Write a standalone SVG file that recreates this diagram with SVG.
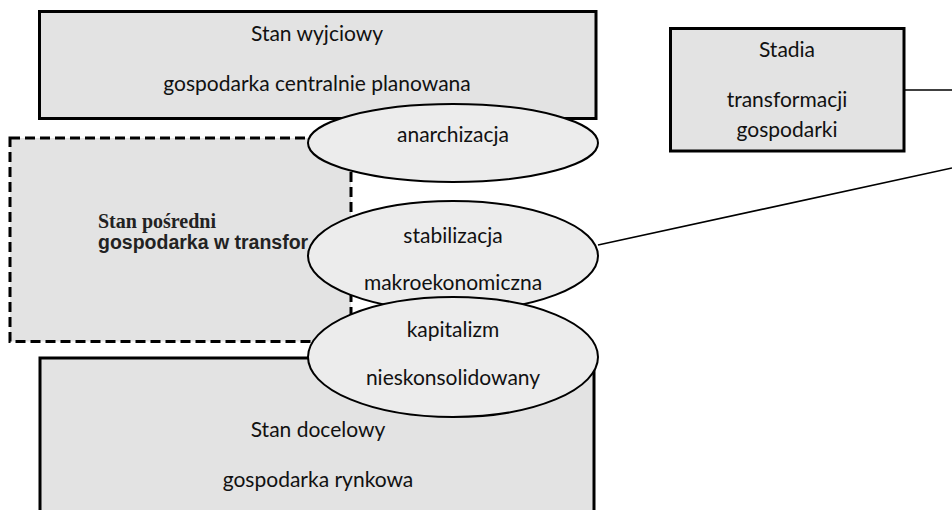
<svg xmlns="http://www.w3.org/2000/svg" width="952" height="510" viewBox="0 0 952 510">
<style>
.box{fill:#e3e3e3;stroke:#000;stroke-width:3}
.dash{fill:#e3e3e3;stroke:#000;stroke-width:3;stroke-dasharray:10 5}
.ell{fill:#ececec;stroke:#000;stroke-width:2}
.t{font-family:Lato,"Liberation Sans",sans-serif;font-size:21px;fill:#111;text-anchor:middle}
.conn{stroke:#000;stroke-width:1.6;fill:none}
</style>
<rect width="952" height="510" fill="#fff"/>
<g id="stan-wyjsciowy">
<rect class="box" x="39.5" y="11.5" width="556.5" height="107"/>
<text class="t" x="317" y="41">Stan wyjciowy</text>
<text class="t" x="317" y="91">gospodarka centralnie planowana</text>
</g>
<g id="stan-posredni">
<rect class="dash" x="10" y="138" width="341" height="203.5"/>
<text x="98" y="228" font-family="'Liberation Serif',serif" font-weight="bold" font-size="20" fill="#222">Stan pośredni</text>
<text x="98" y="249" font-family="'Liberation Sans',Arial,sans-serif" font-weight="bold" font-size="19.5" fill="#222">gospodarka w transfor</text>
</g>
<g id="stan-docelowy">
<rect class="box" x="40" y="358" width="554" height="180"/>
<text class="t" x="318" y="437">Stan docelowy</text>
<text class="t" x="318" y="487">gospodarka rynkowa</text>
</g>
<g id="anarchizacja">
<ellipse class="ell" cx="453" cy="143" rx="145" ry="39"/>
<text class="t" x="453" y="142">anarchizacja</text>
</g>
<g id="stabilizacja">
<ellipse class="ell" cx="453" cy="256" rx="145" ry="55"/>
<text class="t" x="453" y="243">stabilizacja</text>
<text class="t" x="453" y="290">makroekonomiczna</text>
</g>
<g id="kapitalizm">
<ellipse class="ell" cx="453" cy="357" rx="145" ry="60"/>
<text class="t" x="453" y="337">kapitalizm</text>
<text class="t" x="453" y="385">nieskonsolidowany</text>
</g>
<g id="stadia">
<rect class="box" x="670.5" y="28.5" width="233.5" height="122.5"/>
<text class="t" x="787" y="57">Stadia</text>
<text class="t" x="787" y="107">transformacji</text>
<text class="t" x="787" y="137">gospodarki</text>
</g>
<g id="connectors">
<line class="conn" x1="905" y1="90" x2="952" y2="90"/>
<line class="conn" x1="598" y1="245" x2="952" y2="168"/>
</g>
</svg>
